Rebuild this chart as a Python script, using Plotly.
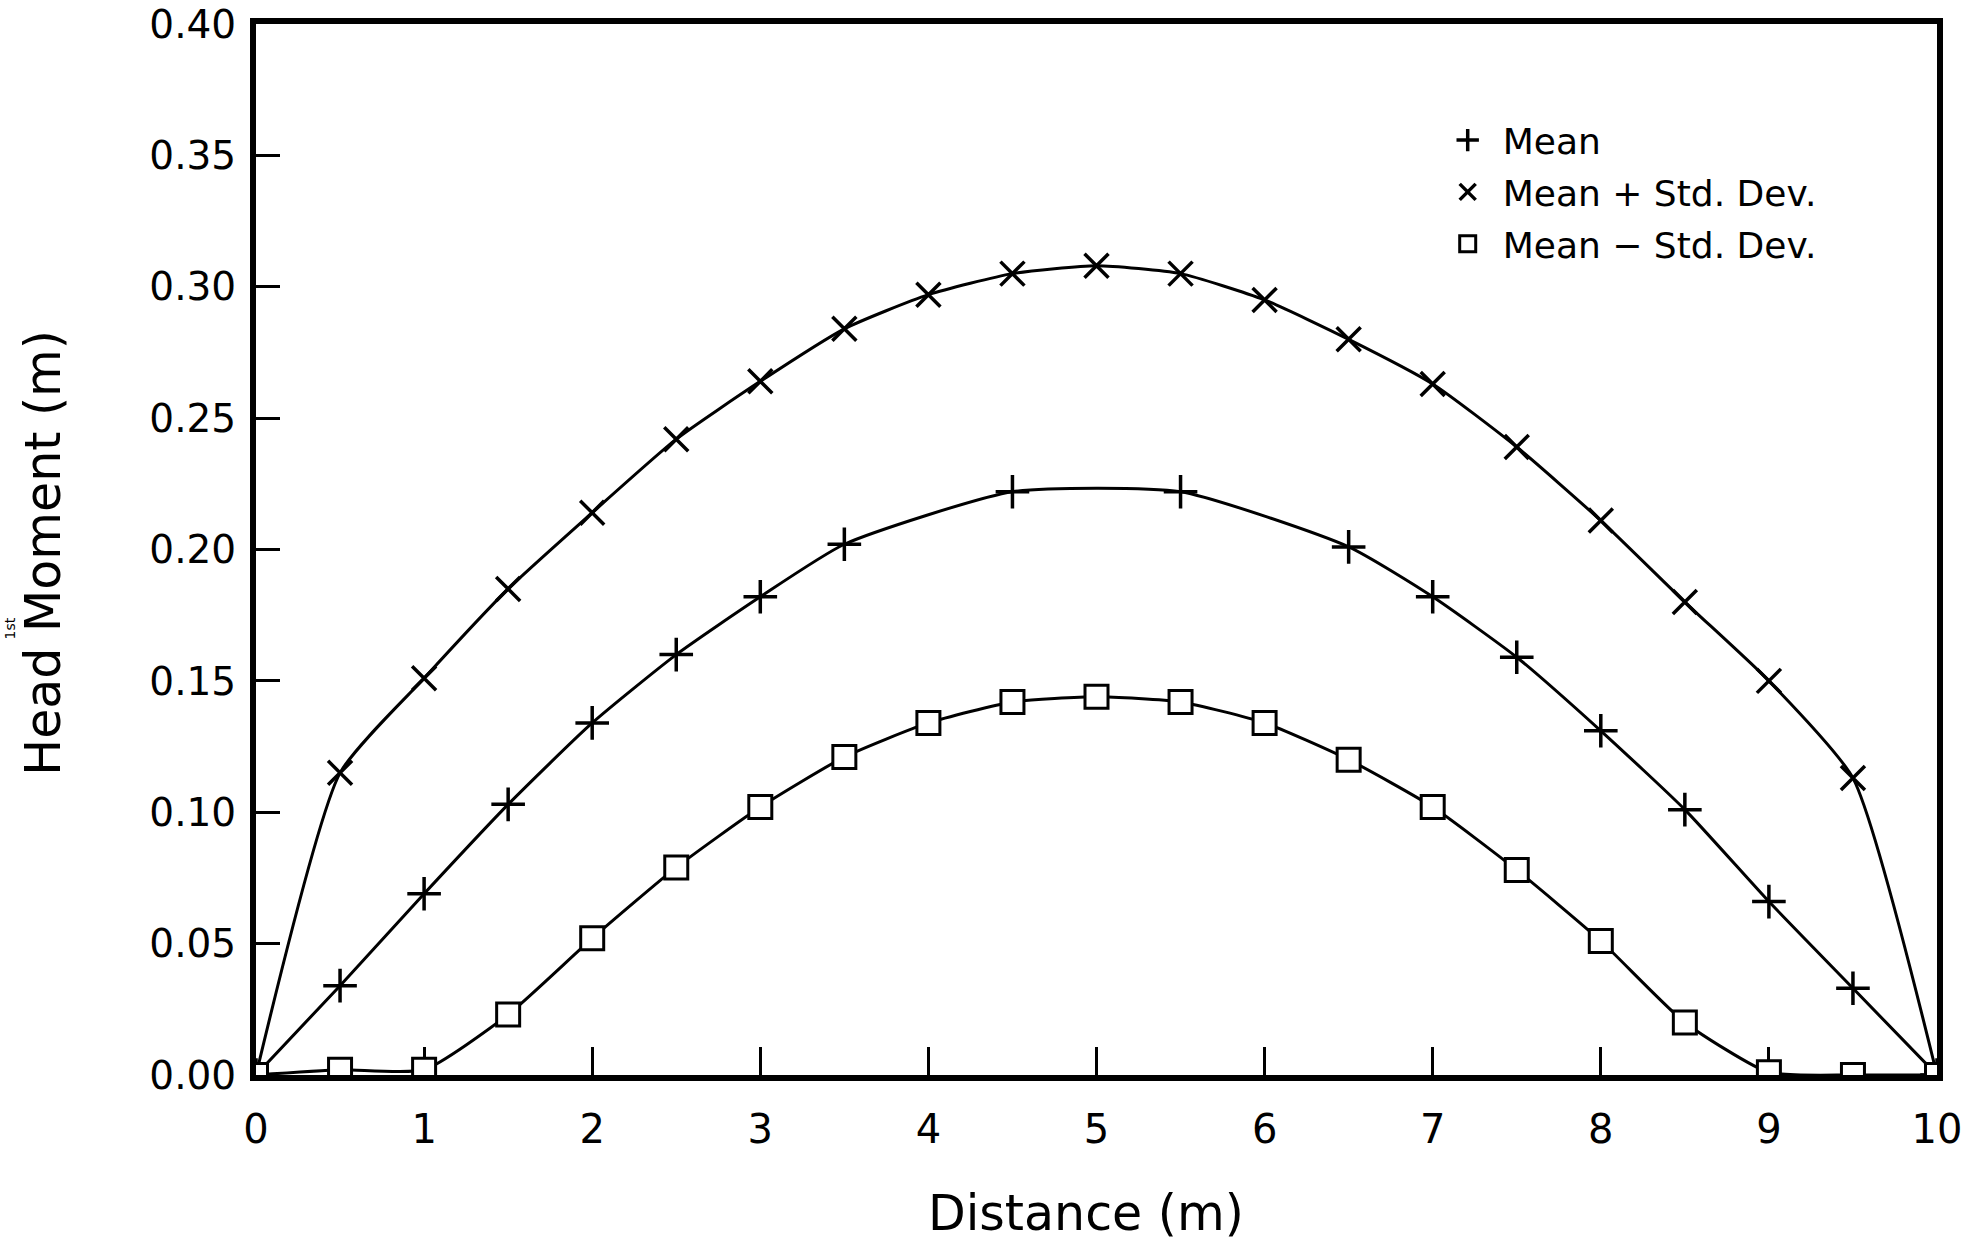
import plotly.graph_objects as go

# Distance along the domain (m)
distance = [0.0, 0.5, 1.0, 1.5, 2.0, 2.5, 3.0, 3.5, 4.0, 4.5, 5.0,
            5.5, 6.0, 6.5, 7.0, 7.5, 8.0, 8.5, 9.0, 9.5, 10.0]

# Mean head moment, sampled where the mean was plotted
mean_distance = [0.0, 0.5, 1.0, 1.5, 2.0, 2.5, 3.0, 3.5, 4.5,
                 5.5, 6.5, 7.0, 7.5, 8.0, 8.5, 9.0, 9.5, 10.0]
mean_moment = [0.000, 0.034, 0.069, 0.103, 0.134, 0.160, 0.182, 0.202, 0.222,
               0.222, 0.201, 0.182, 0.159, 0.131, 0.101, 0.066, 0.033, 0.000]

# Mean plus / minus one standard deviation
mean_plus_sd = [0.000, 0.115, 0.151, 0.185, 0.214, 0.242, 0.264, 0.284, 0.297, 0.305, 0.308,
                0.305, 0.295, 0.280, 0.263, 0.239, 0.211, 0.180, 0.150, 0.113, 0.000]
mean_minus_sd = [0.000, 0.002, 0.002, 0.023, 0.052, 0.079, 0.102, 0.121, 0.134, 0.142, 0.144,
                 0.142, 0.134, 0.120, 0.102, 0.078, 0.051, 0.020, 0.001, 0.000, 0.000]

x_ticks = [0, 1, 2, 3, 4, 5, 6, 7, 8, 9, 10]
y_ticks = [0.00, 0.05, 0.10, 0.15, 0.20, 0.25, 0.30, 0.35, 0.40]
y_tick_labels = ["0.00", "0.05", "0.10", "0.15", "0.20", "0.25", "0.30", "0.35", "0.40"]

FONT = "DejaVu Sans"
INK = "black"

fig = go.Figure()

# Smooth connecting curves (no legend entries)
for xs, ys in [(distance, mean_plus_sd), (mean_distance, mean_moment), (distance, mean_minus_sd)]:
    fig.add_trace(go.Scatter(
        x=xs, y=ys, mode="lines",
        line=dict(color=INK, width=3, shape="spline", smoothing=0.55),
        showlegend=False, hoverinfo="skip",
    ))

# Symbols for each series
fig.add_trace(go.Scatter(
    x=mean_distance, y=mean_moment, mode="markers", name="Mean",
    legendgroup="a",
    marker=dict(symbol="cross-thin-open", size=24, color=INK, line=dict(color=INK, width=3.5)),
))
fig.add_trace(go.Scatter(
    x=distance, y=mean_plus_sd, mode="markers", name="Mean + Std. Dev.",
    legendgroup="b",
    marker=dict(symbol="x-thin-open", size=24, color=INK, line=dict(color=INK, width=3.5)),
))
fig.add_trace(go.Scatter(
    x=distance, y=mean_minus_sd, mode="markers", name="Mean − Std. Dev.",
    legendgroup="c",
    marker=dict(symbol="square", size=23, color="white", line=dict(color=INK, width=3)),
))

fig.update_layout(
    width=1976, height=1243,
    margin=dict(l=256, r=39, t=24, b=168),
    paper_bgcolor="white", plot_bgcolor="white",
    font=dict(family=FONT, color=INK, size=39),
    legend=dict(
        x=0.700, y=0.918, xanchor="left", yanchor="top",
        bgcolor="rgba(0,0,0,0)", borderwidth=0,
        font=dict(family=FONT, size=36, color=INK),
        tracegroupgap=2, itemsizing="trace", itemwidth=60,
    ),
    annotations=[
        dict(text="Distance (m)", xref="paper", yref="paper", x=0.4938, y=-0.132,
             xanchor="center", yanchor="middle", showarrow=False,
             font=dict(family=FONT, size=49, color=INK)),
        dict(text="Head Moment (m)", xref="paper", yref="paper", x=-0.1261, y=0.497,
             xanchor="center", yanchor="middle", showarrow=False, textangle=-90,
             font=dict(family=FONT, size=49, color=INK)),
        dict(text="1st", xref="paper", yref="paper", x=-0.1463, y=0.425,
             xanchor="center", yanchor="middle", showarrow=False, textangle=-90,
             font=dict(family=FONT, size=14, color=INK)),
    ],
)

fig.update_xaxes(
    range=[0, 10], tickvals=x_ticks, ticktext=[str(v) for v in x_ticks],
    ticks="inside", ticklen=28, tickwidth=3, tickcolor=INK,
    showline=True, linewidth=6, linecolor=INK, mirror=True,
    showgrid=False, zeroline=False, ticklabelstandoff=14,
    tickfont=dict(family=FONT, size=40, color=INK), automargin=False,
    layer="below traces", ticklabeloverflow="allow",
)
fig.update_yaxes(
    range=[0, 0.40001], tickvals=y_ticks, ticktext=y_tick_labels,
    ticks="inside", ticklen=24, tickwidth=3, tickcolor=INK,
    showline=True, linewidth=6, linecolor=INK, mirror=True,
    showgrid=False, zeroline=False, ticklabelstandoff=6,
    tickfont=dict(family=FONT, size=39, color=INK), automargin=False,
    layer="below traces", ticklabeloverflow="allow",
)

fig.write_html("out.html")
